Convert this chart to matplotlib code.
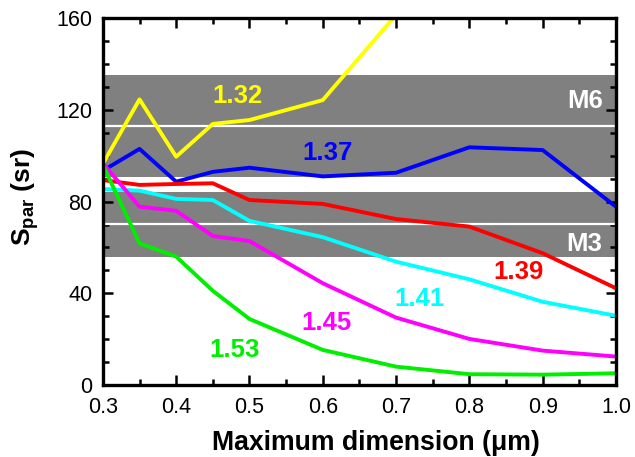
import matplotlib
matplotlib.use("Agg")
import matplotlib.pyplot as plt
from matplotlib.ticker import MultipleLocator

plt.rcParams['font.family'] = ['Liberation Sans', 'DejaVu Sans']
plt.rcParams['mathtext.fontset'] = 'custom'
plt.rcParams['mathtext.rm'] = 'Liberation Sans'
plt.rcParams['mathtext.bf'] = 'Liberation Sans:bold'
plt.rcParams['mathtext.it'] = 'Liberation Sans:italic'

x = [0.3, 0.35, 0.4, 0.45, 0.5, 0.6, 0.7, 0.8, 0.9, 1.0]
x_y132 = [0.3, 0.35, 0.4, 0.45, 0.5, 0.6, 0.7]
s132 = [96.5, 124.6, 99.6, 113.9, 115.6, 124.3, 161.5]
s137 = [93.5, 103.0, 88.7, 93.0, 94.8, 91.0, 92.6, 103.7, 102.5, 77.8]
s139 = [89.4, 87.3, 87.7, 88.0, 80.7, 79.0, 72.4, 69.1, 57.5, 42.2]
s141 = [85.5, 84.8, 81.2, 80.7, 71.6, 64.5, 53.8, 46.1, 36.3, 30.2]
s145 = [96.7, 77.8, 76.0, 65.0, 62.8, 44.4, 29.4, 20.1, 15.0, 12.4]
s153 = [96.0, 61.8, 56.0, 41.1, 28.8, 15.3, 8.0, 4.7, 4.5, 5.1]

# Gray reference bands: (lower, centre, upper)
band_m6 = (90.8, 113.0, 135.3)
band_m3 = (55.8, 70.2, 84.2)

fig = plt.figure(figsize=(6.35, 4.57), dpi=100)
ax = fig.add_axes([0.162, 0.1576, 0.808, 0.8024])

for lo, mid, hi in (band_m6, band_m3):
    ax.axhspan(lo, hi, color='#808080', lw=0, zorder=1)
    ax.axhline(mid, color='white', lw=1.6, zorder=2)

lw = 2.8
ax.plot(x_y132, s132, color='#FFFF00', lw=lw, zorder=3)
ax.plot(x, s137, color='#0000FF', lw=lw, zorder=3)
ax.plot(x, s139, color='#FF0000', lw=lw, zorder=3)
ax.plot(x, s141, color='#00FFFF', lw=lw, zorder=3)
ax.plot(x, s145, color='#FF00FF', lw=lw, zorder=3)
ax.plot(x, s153, color='#00EE00', lw=lw, zorder=3)

fs = 18.5
kw = dict(fontsize=fs, fontweight='bold', ha='center', va='baseline', zorder=4)
ax.text(0.483, 122.9, '1.32', color='#FFFF00', **kw)
ax.text(0.607, 98.2, '1.37', color='#0000FF', **kw)
ax.text(0.8675, 46.1, '1.39', color='#FF0000', **kw)
ax.text(0.7325, 34.5, '1.41', color='#00FFFF', **kw)
ax.text(0.6056, 24.0, '1.45', color='#FF00FF', **kw)
ax.text(0.480, 12.3, '1.53', color='#00EE00', **kw)
ax.text(0.958, 120.9, 'M6', color='white', **kw)
ax.text(0.956, 58.6, 'M3', color='white', **kw)

ax.set_xlim(0.3, 1.0)
ax.set_ylim(0, 160)
ax.set_xticks([0.3, 0.4, 0.5, 0.6, 0.7, 0.8, 0.9, 1.0])
ax.set_xticklabels(['0.3', '0.4', '0.5', '0.6', '0.7', '0.8', '0.9', '1.0'])
ax.xaxis.set_minor_locator(MultipleLocator(0.05))
ax.yaxis.set_major_locator(MultipleLocator(40))
ax.yaxis.set_minor_locator(MultipleLocator(10))
ax.tick_params(which='both', direction='in', top=True, right=True, width=1.8, labelsize=15.5)
ax.tick_params(axis='x', pad=9)
ax.tick_params(axis='y', pad=7.5)
ax.tick_params(which='major', length=7.5)
ax.tick_params(which='minor', length=4.5)
for sp in ax.spines.values():
    sp.set_linewidth(2.4)
    sp.set_zorder(5)

fig.text(376 / 635, 1 - 450.5 / 457, 'Maximum dimension (\u03bcm)', fontsize=19.2,
         fontweight='bold', ha='center', va='baseline')
fig.text(25 / 635, 1 - 197 / 457, r'$\mathbf{S}_{\mathbf{par}}$ (sr)', fontsize=19,
         fontweight='bold', ha='center', va='center', rotation=90)

fig.savefig('out.png', dpi=100)
